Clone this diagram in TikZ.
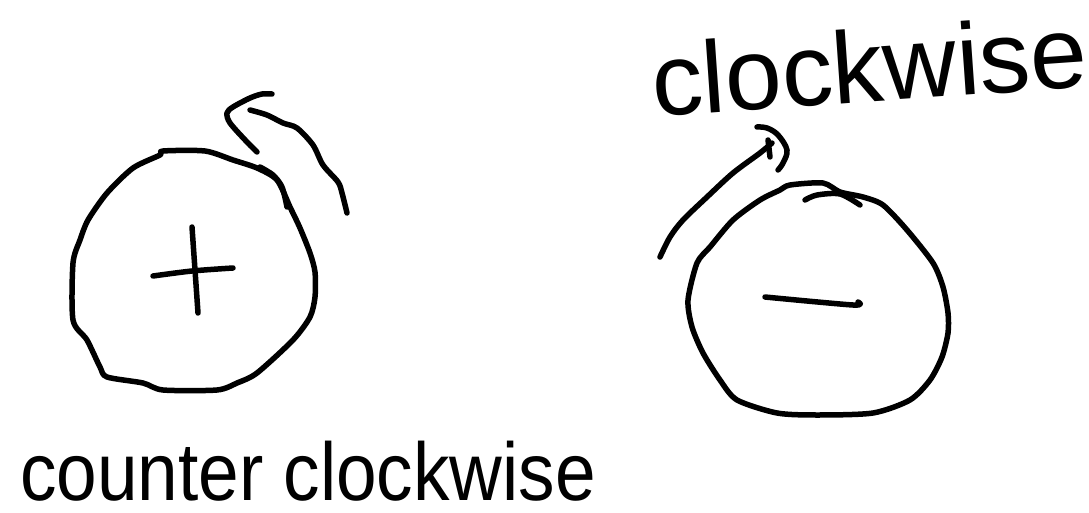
\documentclass[tikz,border=0pt]{standalone}
\usepackage{fontspec}
\setmainfont{Liberation Sans}
\newfontfamily\narrowfont[FakeStretch=0.89]{Liberation Sans}
\begin{document}
\begin{tikzpicture}[x=1pt,y=-1pt,
  ink/.style={line width=5.5pt,line cap=round,line join=round,black},
  word/.style={inner sep=0pt,outer sep=0pt,black}]
\useasboundingbox (0,0) rectangle (1089,513);
% left circle
\draw[ink] plot[smooth cycle,tension=0.45] coordinates {
 (163,151) (205,151) (233,160) (257,168) (277,180) (290,207) (300,228) (310,253)
 (315,272) (315,297) (310,317) (293,340) (257,373) (237,383) (217,390) (163,390)
 (143,383) (107,377) (100,367) (87,340) (73,320) (73,263) (80,240) (88,220)
 (107,193) (133,168) (160,155)};
% plus sign
\draw[ink] plot[smooth,tension=0.5] coordinates {(153,276) (192,271) (233,268)};
\draw[ink] (192,227) -- (198,313);
% counter-clockwise arrow
\draw[ink] plot[smooth,tension=0.5] coordinates {(257,152) (247,142) (230,123) (227,113) (233,107) (250,98) (262,94) (272,94)};
\draw[ink] plot[smooth,tension=0.5] coordinates {(250,110) (267,115) (283,123) (297,128) (313,145) (323,165) (338,182) (342,193) (347,213)};
\draw[ink] plot[smooth,tension=0.5] coordinates {(260,167) (273,175) (282,187) (287,207)};
% right circle
\draw[ink] plot[smooth cycle,tension=0.45] coordinates {
 (790,185) (823,183) (840,192) (863,197) (883,205) (907,230) (933,263) (943,287)
 (948,313) (948,333) (942,357) (930,380) (910,400) (873,413) (817,415) (777,413)
 (737,400) (720,380) (703,353) (692,327) (688,300) (697,263) (710,247) (733,220)
 (760,200) (780,190)};
\draw[ink] plot[smooth,tension=0.5] coordinates {(805,200) (817,195) (840,194) (860,205)};
% minus sign
\draw[ink] plot[smooth,tension=0.5] coordinates {(765,297) (853,305) (858,302)};
% clockwise arrow
\draw[ink] plot[smooth,tension=0.5] coordinates {(660,257) (670,237) (683,220) (707,197) (733,173) (760,153) (772,143)};
\draw[ink] plot[smooth,tension=0.6] coordinates {(757,127) (767,128) (778,135) (787,150) (783,163) (778,170)};
\draw[ink] (768,140) -- (770,157);
% labels
\node[word,anchor=base west,rotate=4,font=\fontsize{102}{102}\selectfont] (cw) at (654,117) {clockwise};
\node[word,anchor=base west,font=\narrowfont\fontsize{82}{82}\selectfont] (ccw) at (20,500) {counter clockwise};
\end{tikzpicture}
\end{document}
